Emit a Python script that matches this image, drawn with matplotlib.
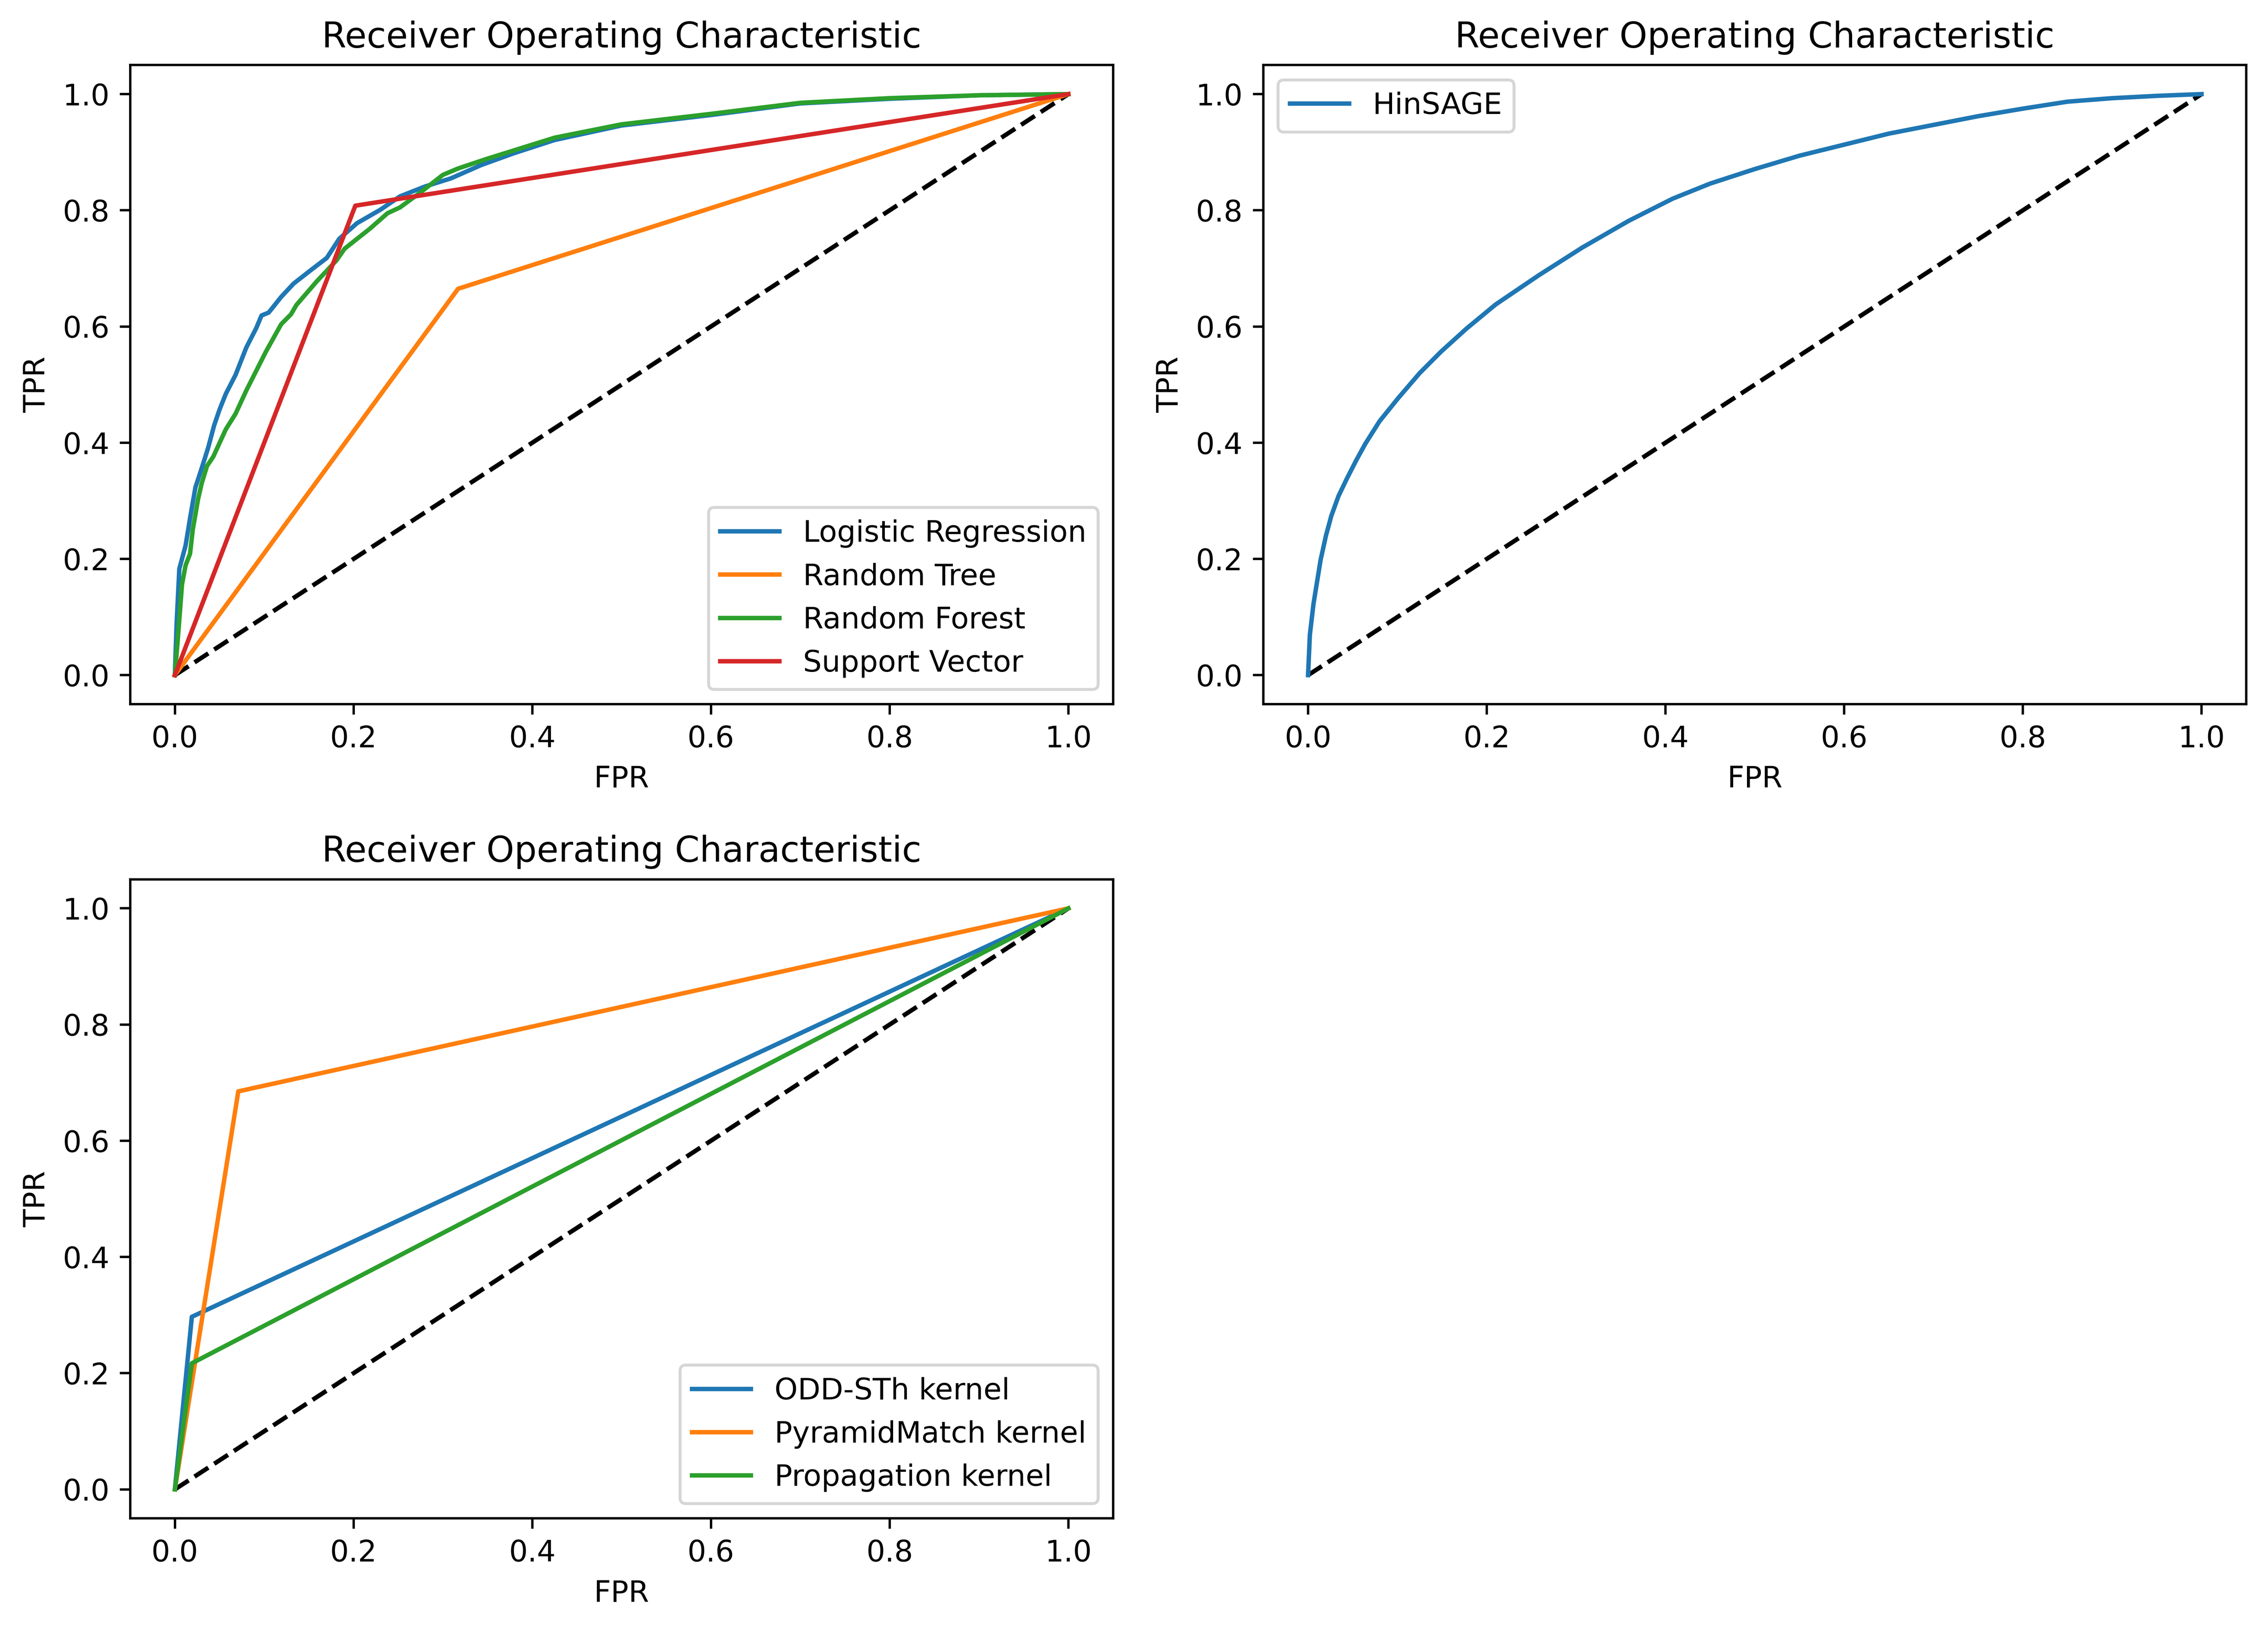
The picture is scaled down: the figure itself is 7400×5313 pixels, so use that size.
import numpy as np
import matplotlib
matplotlib.use('Agg')
import matplotlib.pyplot as plt

# values
lr_fpr = [0.0, 0.002, 0.005, 0.012, 0.017, 0.023, 0.030, 0.037, 0.044, 0.050, 0.057, 0.068, 0.080,
          0.091, 0.097, 0.105, 0.119, 0.133, 0.153, 0.170, 0.184, 0.204, 0.230, 0.252, 0.280, 0.309,
          0.343, 0.379, 0.425, 0.5, 0.6, 0.7, 0.8, 0.9, 1.0]
lr_tpr = [0.0, 0.09, 0.183, 0.223, 0.27, 0.323, 0.356, 0.39, 0.43, 0.457, 0.484, 0.517, 0.564,
          0.597, 0.619, 0.624, 0.651, 0.674, 0.698, 0.718, 0.751, 0.778, 0.801, 0.824, 0.841, 0.855,
          0.878, 0.898, 0.921, 0.946, 0.964, 0.984, 0.992, 0.998, 1.0]

rt_fpr = [0.0, 0.317, 1.0]
rt_tpr = [0.0, 0.665, 1.0]

rf_fpr = [0.0, 0.003, 0.008, 0.012, 0.017, 0.020, 0.026, 0.030, 0.036, 0.043, 0.057, 0.068, 0.080,
          0.102, 0.119, 0.130, 0.136, 0.159, 0.181, 0.190, 0.218, 0.238, 0.252, 0.275, 0.300, 0.317,
          0.348, 0.425, 0.5, 0.6, 0.7, 0.8, 0.9, 1.0]
rf_tpr = [0.0, 0.056, 0.156, 0.189, 0.209, 0.25, 0.303, 0.33, 0.36, 0.376, 0.423, 0.45, 0.49,
          0.557, 0.604, 0.621, 0.637, 0.678, 0.714, 0.734, 0.768, 0.795, 0.805, 0.831, 0.861, 0.872,
          0.888, 0.925, 0.948, 0.966, 0.985, 0.993, 0.998, 1.0]

sv_fpr = [0.0, 0.202, 1.0]
sv_tpr = [0.0, 0.808, 1.0]

hs_fpr = [0.0, 0.002, 0.006, 0.010, 0.014, 0.020, 0.026, 0.034, 0.044, 0.054, 0.064, 0.080, 0.101,
          0.125, 0.149, 0.177, 0.210, 0.258, 0.307, 0.359, 0.408, 0.45, 0.5, 0.55, 0.6, 0.65,
          0.7, 0.75, 0.8, 0.85, 0.9, 0.95, 1.0]
hs_tpr = [0.0, 0.069, 0.122, 0.160, 0.198, 0.240, 0.274, 0.308, 0.340, 0.370, 0.398, 0.437, 0.477,
          0.520, 0.557, 0.596, 0.638, 0.688, 0.736, 0.782, 0.820, 0.846, 0.871, 0.894, 0.913, 0.932,
          0.947, 0.962, 0.975, 0.987, 0.993, 0.997, 1.0]

odd_fpr = [0.0, 0.019, 1.0]
odd_tpr = [0.0, 0.297, 1.0]
pm_fpr = [0.0, 0.071, 1.0]
pm_tpr = [0.0, 0.685, 1.0]
prop_fpr = [0.0, 0.019, 1.0]
prop_tpr = [0.0, 0.217, 1.0]


def roc_axes(ax, curves, loc):
	ax.plot([0, 1], [0, 1], 'k--')
	for fpr, tpr, name in curves:
		ax.plot(fpr, tpr, label=name)
	ax.set_title('Receiver Operating Characteristic')
	ax.set_xlabel('FPR')
	ax.set_ylabel('TPR')
	ax.legend(loc=loc)


W = 10.667
fig, axes = plt.subplots(2, 2, figsize=(W, W * 5744 / 8000))
fig.subplots_adjust(left=0.0574, right=0.9904, top=0.96, bottom=0.0673, wspace=0.153, hspace=0.274)

roc_axes(axes[0, 0], [(lr_fpr, lr_tpr, 'Logistic Regression'),
                      (rt_fpr, rt_tpr, 'Random Tree'),
                      (rf_fpr, rf_tpr, 'Random Forest'),
                      (sv_fpr, sv_tpr, 'Support Vector')], 'lower right')
roc_axes(axes[0, 1], [(hs_fpr, hs_tpr, 'HinSAGE')], 'upper left')
roc_axes(axes[1, 0], [(odd_fpr, odd_tpr, 'ODD-STh kernel'),
                      (pm_fpr, pm_tpr, 'PyramidMatch kernel'),
                      (prop_fpr, prop_tpr, 'Propagation kernel')], 'lower right')
axes[1, 1].axis('off')

# full 8000 px width trips the checker's pixel limit, so stay just under it
plt.savefig('out.png', dpi=7400 / W)
plt.close()
